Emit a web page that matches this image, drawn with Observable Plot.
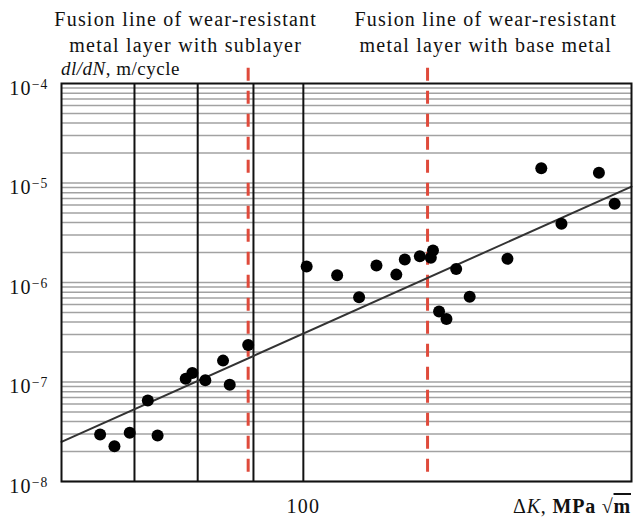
<!DOCTYPE html>
<html><head><meta charset="utf-8">
<script src="https://cdn.jsdelivr.net/npm/d3@7"></script>
<script src="https://cdn.jsdelivr.net/npm/@observablehq/plot@0.6"></script>
<style>body{margin:0;background:#fff} svg{display:block}</style>
</head><body><div id="chart"></div>
<script>
// ΔK, MPa·√m
const deltaK = [65.1, 67.1, 69.3, 72.0, 73.5, 78.0, 79.1, 81.3, 84.4, 85.6, 89.0,
  100.7, 107.4, 112.5, 116.7, 121.7, 123.9, 127.9, 130.9, 131.5, 138.1, 142.1, 133.2, 135.3,
  153.9, 165.3, 172.5, 186.7, 193.0];
// dl/dN, m/cycle
const rate = [2.97e-8, 2.26e-8, 3.09e-8, 6.52e-8, 2.90e-8, 1.08e-7, 1.23e-7, 1.04e-7, 1.64e-7, 9.4e-8, 2.36e-7,
  1.45e-6, 1.18e-6, 7.1e-7, 1.48e-6, 1.2e-6, 1.7e-6, 1.84e-6, 1.77e-6, 2.1e-6, 1.37e-6, 7.2e-7, 5.1e-7, 4.3e-7,
  1.73e-6, 1.41e-5, 3.9e-6, 1.27e-5, 6.2e-6];
const trendK = [60, 200];
const trendRate = [2.5e-8, 9.2e-6];
const verticalLinesK = [70, 80, 90, 100];
const fusionK = [89, 130];
const fusionLabels = ["Fusion line of wear-resistant\nmetal layer with sublayer",
                      "Fusion line of wear-resistant\nmetal layer with base metal"];
const yTickValues = [1e-8, 1e-7, 1e-6, 1e-5, 1e-4];
const yTickExponents = ["−8", "−7", "−6", "−5", "−4"];
const xTickValues = [100];
const xTickLabels = ["100"];
const gridDecades = [1e-8, 1e-7, 1e-6, 1e-5];
const gridMantissas = [1, 2, 3, 4, 5, 6, 7, 8, 9];

const points = deltaK.map((k, i) => ({k, r: rate[i]}));
const trend = trendK.map((k, i) => ({k, r: trendRate[i]}));
const gridValues = gridDecades.flatMap(d => gridMantissas.map(m => m * d));

const font = '"Liberation Serif", "Times New Roman", serif';
const chart = Plot.plot({
  width: 644, height: 519,
  marginLeft: 61, marginRight: 13, marginTop: 83, marginBottom: 38,
  style: {fontFamily: font, fontSize: "20px", background: "#fff", color: "#111", letterSpacing: "1.2px"},
  x: {type: "log", domain: [60, 200]},
  y: {type: "log", domain: [1e-8, 1e-4]},
  marks: [
    Plot.ruleY(gridValues, {stroke: "#a2a2a2", strokeWidth: 1.5}),
    Plot.ruleX(verticalLinesK, {stroke: "#111", strokeWidth: 2}),
    Plot.ruleX(fusionK, {y1: 1.42e-4, y2: 1e-8, stroke: "#df4a3b", strokeWidth: 3, strokeDasharray: "13,10"}),
    Plot.line(trend, {x: "k", y: "r", stroke: "#333", strokeWidth: 2}),
    Plot.dot(points, {x: "k", y: "r", r: 6, fill: "#000"}),
    Plot.frame({stroke: "#111", strokeWidth: 2}),
    Plot.axisY(yTickValues, {tickSize: 0, tickPadding: 13, dy: 5, label: null, fontSize: 20,
      tickFormat: d => yTickExponents[yTickValues.indexOf(d)]}),
    Plot.axisX(xTickValues, {tickSize: 0, tickPadding: 17, label: null, fontSize: 20,
      tickFormat: d => xTickLabels[xTickValues.indexOf(d)]}),
    Plot.text(fusionLabels, {x: [78, 147], text: d => d, frameAnchor: "top", lineAnchor: "top",
      dy: -76, lineHeight: 1.3, fontSize: 20, fill: "#111"})
  ]
});
document.getElementById("chart").appendChild(chart);

const svg = d3.select(chart);
// y tick labels: 10 with superscript exponent
svg.selectAll('g[aria-label="y-axis tick label"] text').each(function() {
  const exp = this.textContent;
  const t = d3.select(this);
  t.text(null);
  t.append("tspan").text("10");
  t.append("tspan").attr("dy", "-0.45em").attr("font-size", "0.68em").text(exp);
});
// y axis title
const yl = svg.append("text").attr("x", 61).attr("y", 75).attr("font-size", 19)
  .attr("text-anchor", "start").attr("letter-spacing", "0.5px")
  .attr("font-family", font).attr("fill", "#111");
yl.append("tspan").attr("font-style", "italic").text("dl/dN");
yl.append("tspan").text(", m/cycle");
// x axis title
const xl = svg.append("text").attr("x", 631).attr("y", 513).attr("font-size", 20)
  .attr("text-anchor", "end").attr("letter-spacing", "0.8px")
  .attr("font-family", font).attr("fill", "#111");
xl.append("tspan").text("Δ");
xl.append("tspan").attr("font-style", "italic").text("K");
xl.append("tspan").text(", ");
xl.append("tspan").attr("font-weight", "bold").text("MPa √");
xl.append("tspan").attr("font-weight", "bold").attr("text-decoration", "overline").text("m");
</script>
</body></html>
